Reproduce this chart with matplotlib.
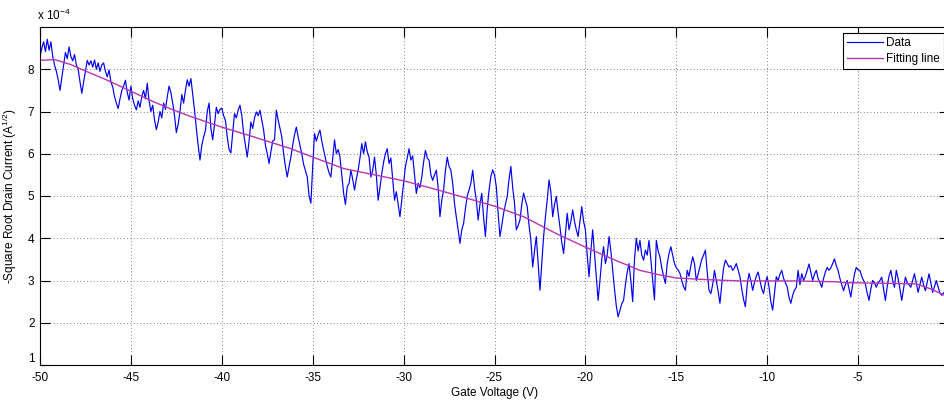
import matplotlib
matplotlib.use("Agg")
import matplotlib.pyplot as plt
import numpy as np

plt.rcParams["font.family"] = ["Liberation Sans", "DejaVu Sans"]
plt.rcParams["mathtext.default"] = "regular"
plt.rcParams["axes.unicode_minus"] = False

# Measured -sqrt(Id), in units of 1e-4 A^(1/2), gate sweep -50 V .. 0 V in 0.1 V steps
current = [
    8.30, 8.50, 8.65, 8.42, 8.71, 8.45, 8.65, 8.30, 8.10, 7.95,
    7.75, 7.50, 7.80, 8.10, 8.40, 8.25, 8.53, 8.30, 8.20, 8.35,
    8.10, 8.00, 7.70, 7.43, 7.70, 7.95, 8.21, 8.10, 8.20, 8.05,
    8.22, 8.00, 8.15, 7.95, 8.10, 8.15, 7.95, 7.82, 7.98, 7.70,
    7.58, 7.35, 7.20, 7.07, 7.30, 7.50, 7.60, 7.74, 7.45, 7.27,
    7.60, 7.30, 7.15, 7.04, 7.25, 7.10, 7.35, 7.50, 7.30, 7.67,
    7.25, 7.00, 7.15, 6.80, 6.57, 6.75, 7.00, 6.85, 7.20, 7.05,
    7.35, 7.60, 7.45, 7.20, 6.90, 6.50, 6.70, 7.00, 7.40, 7.20,
    7.50, 7.75, 7.60, 7.78, 7.40, 7.03, 6.60, 6.20, 5.85, 6.20,
    6.40, 6.55, 7.00, 7.20, 6.60, 6.33, 6.70, 7.10, 6.95, 7.05,
    7.08, 6.90, 6.79, 6.40, 6.10, 6.02, 6.50, 6.95, 6.85, 7.03,
    7.15, 6.90, 6.48, 6.20, 5.92, 6.30, 6.75, 6.60, 6.85, 6.99,
    6.90, 7.03, 6.80, 6.56, 6.20, 6.00, 5.77, 6.05, 6.30, 6.33,
    7.03, 6.80, 6.60, 6.40, 6.00, 5.70, 5.45, 5.70, 5.92, 6.20,
    6.45, 6.63, 6.40, 6.20, 6.00, 5.75, 5.60, 5.45, 5.00, 4.83,
    5.70, 6.48, 6.30, 6.45, 6.56, 6.30, 6.09, 5.90, 5.70, 5.55,
    5.45, 5.90, 6.33, 6.00, 6.10, 5.92, 5.50, 5.07, 4.80, 5.22,
    5.30, 5.61, 5.40, 5.14, 5.40, 5.61, 5.90, 6.24, 6.00, 6.28,
    6.05, 5.92, 5.45, 5.60, 5.92, 5.50, 4.90, 5.20, 5.53, 5.80,
    6.00, 6.12, 5.77, 5.90, 5.40, 4.90, 5.10, 4.80, 4.51, 4.90,
    5.30, 5.70, 5.90, 6.12, 5.85, 5.95, 5.50, 5.06, 5.30, 5.20,
    5.45, 5.80, 6.08, 5.90, 5.85, 5.50, 5.37, 5.50, 5.61, 5.20,
    4.51, 4.90, 5.14, 5.60, 5.92, 5.70, 5.61, 5.30, 4.82, 4.50,
    4.20, 3.88, 4.20, 4.35, 4.70, 5.00, 5.14, 5.30, 5.61, 5.20,
    4.90, 4.43, 4.80, 5.06, 4.50, 4.04, 4.70, 5.14, 5.46, 5.62,
    5.50, 5.22, 4.60, 4.04, 4.30, 4.59, 4.80, 4.99, 5.40, 5.70,
    5.20, 4.83, 4.20, 4.30, 4.43, 4.80, 5.07, 4.90, 4.75, 4.30,
    3.96, 3.32, 3.70, 4.04, 3.40, 2.77, 3.40, 4.04, 4.50, 4.91,
    5.38, 5.10, 4.51, 4.80, 4.99, 4.60, 4.27, 3.90, 3.64, 4.10,
    4.59, 4.20, 4.40, 4.67, 4.40, 4.20, 4.04, 4.40, 4.75, 4.40,
    4.20, 3.60, 3.09, 3.70, 4.20, 3.64, 3.10, 2.53, 3.00, 3.50,
    3.80, 3.40, 3.60, 4.04, 3.70, 3.24, 2.80, 2.40, 2.14, 2.30,
    2.45, 2.53, 2.90, 3.20, 3.40, 3.00, 2.50, 3.50, 4.00, 3.70,
    3.95, 3.60, 3.48, 3.72, 3.60, 3.95, 3.50, 3.00, 2.54, 3.95,
    3.70, 3.56, 3.30, 3.10, 2.93, 3.40, 3.64, 3.80, 3.60, 3.40,
    3.30, 3.25, 3.17, 3.00, 2.85, 2.77, 3.24, 3.10, 3.35, 3.56,
    3.40, 3.00, 3.15, 3.32, 3.50, 3.60, 3.72, 3.20, 2.77, 2.69,
    2.90, 3.24, 3.00, 2.75, 2.46, 2.90, 3.30, 3.48, 3.40, 3.32,
    3.35, 3.24, 3.30, 3.40, 3.25, 3.09, 2.80, 2.55, 2.38, 2.90,
    3.17, 3.00, 2.77, 2.95, 3.10, 3.20, 3.00, 2.80, 2.69, 2.95,
    3.09, 2.85, 2.50, 2.30, 2.70, 3.09, 3.00, 3.15, 3.24, 3.05,
    2.95, 2.85, 2.60, 2.46, 2.65, 2.77, 2.84, 3.24, 2.90, 3.16,
    3.00, 3.10, 3.24, 3.39, 3.20, 3.00, 3.15, 3.24, 3.05, 2.95,
    2.84, 3.05, 3.20, 3.31, 3.24, 3.30, 3.40, 3.51, 3.35, 3.24,
    3.05, 2.90, 2.76, 2.90, 3.00, 2.80, 2.61, 2.90, 3.15, 3.31,
    3.25, 3.24, 3.10, 3.00, 2.92, 2.70, 2.53, 2.80, 3.00, 2.95,
    2.84, 2.95, 3.00, 3.08, 2.80, 2.53, 2.85, 3.10, 3.24, 3.00,
    2.84, 3.24, 3.05, 2.80, 2.53, 2.80, 3.08, 2.95, 2.90, 2.84,
    3.00, 3.16, 2.95, 2.72, 2.90, 3.08, 2.90, 2.76, 2.95, 3.16,
    2.95, 2.72, 2.85, 3.00, 2.85, 2.70, 2.65, 2.70, 2.76, 2.70,
    2.65,
]
gate = np.linspace(-50, 0, len(current))

# smoothed fit through the data
fit_gate = [-50, -49.2, -48.3, -47.4, -46.4, -45.5, -44.6, -43.7, -42.8, -41.7,
            -40, -38.1, -36.2, -35, -33.3, -30, -28, -25, -23.4, -21.6,
            -20, -18.3, -17, -16, -15, -13.3, -11.5, -8.5, -6.2, -5.8,
            -1.8, -1.0, 0]
fit_current = [8.21, 8.23, 8.11, 7.94, 7.76, 7.58, 7.40, 7.22, 7.06, 6.88,
               6.63, 6.38, 6.12, 5.92, 5.65, 5.36, 5.13, 4.76, 4.51, 4.11,
               3.79, 3.47, 3.24, 3.14, 3.06, 3.02, 2.99, 2.99, 2.97, 2.95,
               2.92, 2.80, 2.60]

fig = plt.figure(figsize=(9.45, 4.0), dpi=100)
ax = fig.add_axes([40 / 945, 35 / 400, 909 / 945, 338 / 400])

ax.plot(gate, current, color="#0000ee", lw=0.85, label="Data")
ax.plot(fit_gate, fit_current, color="#b535b5", lw=1.0, label="Fitting line")

ax.set_xlim(-50, 0)
ax.set_ylim(1, 9)
ax.set_xticks(np.arange(-50, 0, 5))
ax.set_yticks(np.arange(1, 9))
ax.tick_params(direction="in", length=7, width=0.8, top=True, right=True,
               labelsize=8.5, colors="black")
ax.tick_params(axis="x", pad=5)
ax.tick_params(axis="y", pad=4)
ax.grid(True, linestyle=(0, (1, 3)), linewidth=0.6, color="0.35")
for s in ax.spines.values():
    s.set_linewidth(0.8)

# lift the lowest y label a touch so it clears the first x label
ax.get_yticklabels()[0].set_verticalalignment("bottom")

ax.set_xlabel("Gate Voltage (V)", fontsize=8.5, labelpad=2)
ax.set_ylabel("-Square Root Drain Current (A$^{1/2}$)", fontsize=8.5, labelpad=6)
ax.text(-0.003, 1.012, "x 10$^{-4}$", transform=ax.transAxes, fontsize=8.5,
        ha="left", va="bottom")

leg = ax.legend(loc="upper right", bbox_to_anchor=(904 / 909, 0.982),
                fontsize=8.5, fancybox=False, framealpha=1, edgecolor="black",
                borderaxespad=0, handlelength=3.0, handletextpad=0.3,
                borderpad=0.35, labelspacing=0.35)
leg.get_frame().set_linewidth(0.8)

fig.savefig("out.png", dpi=100)
